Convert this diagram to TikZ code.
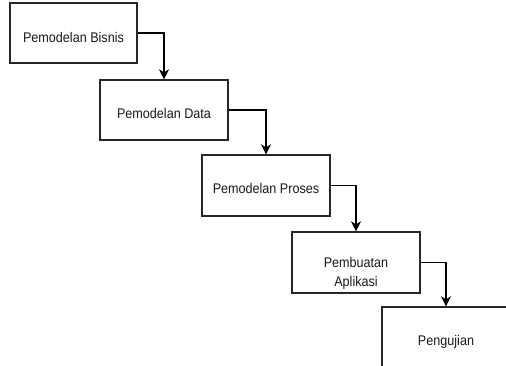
\documentclass[tikz,border=0pt]{standalone}
\usepackage{fontspec}
\setmainfont{Liberation Sans}
\newfontfamily\stagefont[FakeStretch=0.9]{Liberation Sans}
\usetikzlibrary{arrows.meta}
\begin{document}
\begin{tikzpicture}[x=1pt,y=-1pt,
  stage/.style={draw=black!85, line width=1.4pt, fill=white, minimum width=128pt, minimum height=61pt, inner sep=0pt},
  caption/.style={font=\stagefont\fontsize{14}{19.5}\selectfont, text=black!90, align=center, inner sep=0pt},
  flow/.style={draw=black, line width=1.3pt, -{Stealth[length=10pt,width=10pt,inset=3pt]}}]
  \useasboundingbox (0,0) rectangle (506,365);
  \clip (0,0) rectangle (506,365);
  % process stages
  \node[stage, minimum width=127pt, minimum height=60pt] (b1) at (73.5,33) {};
  \node[stage, minimum height=60pt] (b2) at (164,110) {};
  \node[stage] (b3) at (266,185.5) {};
  \node[stage] (b4) at (356,262.5) {};
  \node[stage] (b5) at (446,337.5) {};
  % stage names
  \node[caption] (t1) at ([yshift=-4pt]b1.center) {Pemodelan Bisnis};
  \node[caption] (t2) at ([yshift=-3pt]b2.center) {Pemodelan Data};
  \node[caption] (t3) at ([yshift=-2.5pt]b3.center) {Pemodelan Proses};
  \node[caption] (t4) at ([yshift=-11pt]b4.center) {Pembuatan\\Aplikasi};
  \node[caption] (t5) at ([yshift=-4.5pt]b5.center) {Pengujian};
  % connectors
  \draw[flow] (b1.east) -| (b2.north);
  \draw[flow] (b2.east) -| (b3.north);
  \draw[flow] (b3.east) -| (b4.north);
  \draw[flow] (b4.east) -| (b5.north);
\end{tikzpicture}
\end{document}
